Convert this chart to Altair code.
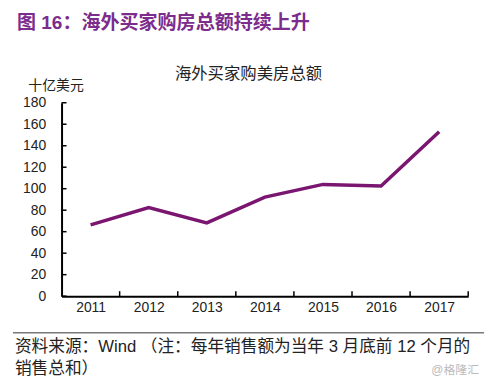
import altair as alt
import pandas as pd

years = [2011, 2012, 2013, 2014, 2015, 2016, 2017]
values = [66.4, 82.5, 68.2, 92.2, 104.0, 102.6, 153.0]
y_ticks = [0, 20, 40, 60, 80, 100, 120, 140, 160, 180]
x_bounds = [2011.5, 2012.5, 2013.5, 2014.5, 2015.5, 2016.5, 2017.5]

header = "图 16：海外买家购房总额持续上升"
chart_title = "海外买家购美房总额"
y_title = "十亿美元"
foot1 = "资料来源：Wind （注：每年销售额为当年 3 月底前 12 个月的"
foot2 = "销售总和）"
mark_txt = "@格隆汇"

FONT = "Liberation Sans, Noto Sans CJK SC"
W, H = 410, 195

df = pd.DataFrame({"year": years, "value": values})
xscale = alt.Scale(domain=[2010.5, 2017.5], nice=False, zero=False)
yscale = alt.Scale(domain=[0, 180], nice=False)

x_axis = alt.Axis(values=years, format="d", title=None, ticks=False, grid=False,
                  labelFont=FONT, labelFontSize=14, labelColor="#222",
                  labelOverlap=False, labelFlush=False,
                  labelPadding=4, domainColor="#000", domainWidth=2)
y_axis = alt.Axis(values=y_ticks, title=None, ticks=False, grid=False,
                  labelFont=FONT, labelFontSize=14, labelColor="#222",
                  labelOverlap=False, labelFlush=False, labelBound=False,
                  labelPadding=16, domainColor="#000", domainWidth=2)

line = alt.Chart(df).mark_line(color="#7A1570", strokeWidth=3.5, strokeJoin="miter").encode(
    x=alt.X("year:Q", scale=xscale, axis=x_axis),
    y=alt.Y("value:Q", scale=yscale, axis=y_axis),
)

yt = alt.Chart(pd.DataFrame({"value": y_ticks})).mark_rule(color="#000", strokeWidth=1.5).encode(
    y=alt.Y("value:Q", scale=yscale, axis=y_axis), x=alt.value(0), x2=alt.value(5)
)
xt = alt.Chart(pd.DataFrame({"year": x_bounds})).mark_rule(color="#000", strokeWidth=1.5).encode(
    x=alt.X("year:Q", scale=xscale, axis=x_axis), y=alt.value(H), y2=alt.value(H - 5)
)


def txt(s, x, y, size, color="#222", weight="normal", align="left", font=FONT):
    return alt.Chart(pd.DataFrame({"t": [s]})).mark_text(
        align=align, baseline="middle", fontSize=size, color=color,
        fontWeight=weight, font=font
    ).encode(text="t:N", x=alt.value(x), y=alt.value(y))


t_header = txt(header, -45, -80, 19.2, color="#7B2C8C", weight="bold")
t_title = txt(chart_title, 188.5, -29, 16.5, align="center")
t_ytitle = txt(y_title, -5.5, -17, 14, align="center")
t_f1 = txt(foot1, -47, 246, 16.8)
t_f2 = txt(foot2, -47, 268, 16.8)
t_mark = txt(mark_txt, 421, 269, 12, color="#bbbbbb", align="right")

foot_line = alt.Chart(pd.DataFrame({"a": [0]})).mark_rule(color="#333", strokeWidth=1).encode(
    x=alt.value(-49), x2=alt.value(426), y=alt.value(232)
)

chart = alt.layer(line, yt, xt, t_header, t_title, t_ytitle, foot_line, t_f1, t_f2, t_mark).properties(
    width=W, height=H,
    autosize=alt.AutoSizeParams(type="none"),
    padding={"left": 54, "top": 94, "right": 24, "bottom": 83},
    background="white",
).configure_view(stroke=None)

chart.save("out.html", embed_options={"renderer": "svg", "actions": False})
